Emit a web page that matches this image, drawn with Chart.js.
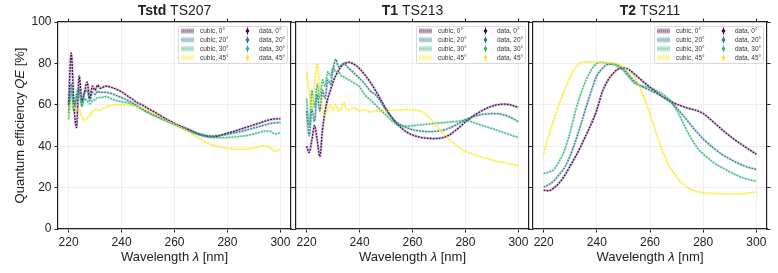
<!DOCTYPE html>
<html>
<head>
<meta charset="utf-8">
<script src="https://cdn.jsdelivr.net/npm/chart.js@4.4.0/dist/chart.umd.min.js"></script>
<style>
    html, body { margin: 0; padding: 0; background: #fff; }
    #wrap { position: relative; width: 778px; height: 273px; }
    #wrap canvas { position: absolute; left: 0; top: 0; }
</style>
</head>
<body>
<div id="wrap">
    <canvas id="c1" width="778" height="273"></canvas>
    <canvas id="c2" width="778" height="273"></canvas>
    <canvas id="c3" width="778" height="273"></canvas>
</div>
<script>
const angles = ['0°', '20°', '30°', '45°'];
const colors = ['#440154', '#2d7d8e', '#35b779', '#fde725'];

// Tstd TS207
const wl1 = [220,221,222,223,224,225,226,227,228,229,230,231,232,234,236,238,240,242,244,246,248,250,252,254,256,258,260,262,264,266,268,270,272,274,276,278,280,282,284,286,288,290,292,294,296,298,300];
const tstd0 = [60,85,60,49,74,62,66,71,63,69,67,69.5,68, 69,68.5,67.5,66.3,64.5,62.8,61,59.8,58.2,56.8, 55.3,53.8,52.4,51,49.8,48.8,47.7,46.5,45.5,44.8, 44.5,44.8,45.5,46.3,47,47.8,48.7,49.5,50.3,51.2, 52,52.8,53.2,53.2];
const tstd20 = [56,70,57,65,68,60,66,67,62,66,65,66.5,66, 66,65.5,64.5,63.5,62.3,61,59.5,58,56.5,55.2, 54,52.8,51.7,50.6,49.5,48.5,47.5,46.5,45.7,45.2, 45,45.1,45.4,45.8,46.3,46.8,47.4,48.1,48.8,49.5, 50.2,50.9,51.3,51.4];
const tstd30 = [53,67,58,63,66,59,63,62,60.5,62,62.5,63.5,63.5, 64,63,62,61.5,61,60.2,59,57.6,56.2,55, 53.8,52.7,51.6,50.5,49.3,48.1,47,46,45.2,44.6, 44.3,44.1,44.1,44.2,44.4,44.6,44.9,45.3,45.9,46.6, 47.3,47.3,46,46.5];
const tstd45 = [55,61,59,57,58,54,52.5,53.5,55,56.5,58,57.5,57.5, 58.8,59.6,60,60,60,59.8,59.2,58.2,57,55.6, 54.3,53,51.8,50.6,49.3,48,46.4,44.8,43.2,41.8, 40.8,40,39.4,39,38.8,38.7,38.7,38.8,39.1,39.8, 40.3,39.5,37.5,38.5];

// T1 TS213
const wl2 = [220,221,222,223,224,225,226,227,228,229,230,231,232,233,234,235,236,238,240,242,244,246,248,250,252,254,256,258,260,262,264,266,268,270,272,274,276,278,280,282,284,286,288,290,292,294,296,298,300];
const t1_0 = [40,37,43,50,43,35,48,57,63,67,71,74,76.5,78.5,79.8,80.3,80.5, 79.5,77.5,74.5,71,67,62.5,58,54.2,51,48.6, 46.7,45.4,44.6,44.1,43.8,43.7,43.8,44.3,45.5,47.3, 49.5,51.8,53.7,55.5,57,58.3,59.3,60,60.3,60.2, 59.6,58.7];
const t1_20 = [57,45,58,52,65,57,67,63,72,70,77,82,78.5,79,80,79,77.5, 75.2,72.8,70,66.8,64.8,61.5,57.5,54,51.6,50, 48.8,48,47.5,47.2,47,47.1,47.4,47.9,48.8,50, 51.4,52.8,53.9,54.7,55.3,55.6,55.8,55.7,55.3,54.5, 53.3,51.8];
const t1_30 = [63,50,67,59,70,63,72,69,76,74,78,76,76,74,73.5,72.7,72, 70.5,68.7,64.8,62.5,60,57.5,55,52.5,50.5,49.8, 49.7,49.9,50.2,50.4,50.7,51,51.2,51.4,51.7,51.9, 52.2,52.5,52,51,50.2,49.3,48.5,47.7,46.8,45.9, 45,44.2];
const t1_45 = [76,65,58,70,80,66,58,55,58,60,57.5,60,57,58,61,58,57.5, 58.5,57,57.5,56.5,57,57,56.8,57.3,57.5,57.6, 57.8,57.6,57.2,56.3,54.2,51.5,48.5,45.8,43.2,41, 39,37.6,36.5,35.6,34.8,34,33.3,32.7,32.2,31.6, 31.1,30.7];

// T2 TS211
const wl3 = [220,222,224,226,228,230,232,234,236,238,240,242,244,246,248,250,252,254,256,258,260,262,264,266,268,270,272,274,276,278,280,284,288,292,296,300];
const t2_0 = [18.7,18.5,20,22.5,26,30.5,35,40,45.5,51, 57.5,66,71.5,75,77.3,77.8,77,75,72.8,70.5, 68.5,66.5,64.5,63,61.5,60.3,59.3,58.5,57.8,57, 55.8, 51.5,47,43,39.5,36.1];
const t2_20 = [20.3,21.5,23.5,26.5,30,35.5,42.5,50.5,59,67, 74,77.5,79.5,79.8,79,77.3,74.5,71.5,69.5,68.2, 67,65.8,64.5,62.8,61,58.5,55.5,52.5,49.2,46.3, 43.5, 39,35.3,32.5,30.2,28.7];
const t2_30 = [26.8,27.5,29,33,38.5,47,57,65.5,72,77, 80,80.5,80,79.5,78.5,76.5,73.5,70.7,69.5,68.8, 68.2,67.2,65.8,63.9,61.5,57.4,52.5,47.2,42.8,38.8, 36.3, 32,29,26.3,24.3,23];
const t2_45 = [36.5,45.5,53.5,61,67.5,73.5,78,80.2,80.8,80.8, 80.6,80.3,80.2,80,79.5,78.2,76.5,73.5,69,62.5, 55.5,47.5,40,33.8,28.8,25.2,22.3,20.2,18.8,18, 17.6, 17.2,17,16.8,17.3,17.9];

const FONT = '"Liberation Sans", Arial, sans-serif';
const INK = '#222';

function rgba(hex, a) {
    const n = parseInt(hex.slice(1), 16);
    return `rgba(${n >> 16}, ${(n >> 8) & 255}, ${n & 255}, ${a})`;
}

function drawRuns(ctx, runs, x, y, size) {
    // runs: [text, style] drawn left to right, centred on x
    let total = 0;
    runs.forEach(r => { ctx.font = `${r[1]} ${size}px ${FONT}`; total += ctx.measureText(r[0]).width; });
    let cx = x - total / 2;
    runs.forEach(r => {
        ctx.font = `${r[1]} ${size}px ${FONT}`;
        ctx.fillText(r[0], cx, y);
        cx += ctx.measureText(r[0]).width;
    });
}

const panelDeco = {
    id: 'panelDeco',
    afterDraw(chart, args, opts) {
        const ctx = chart.ctx;
        const a = chart.chartArea;
        const mid = (a.left + a.right) / 2;
        ctx.save();
        ctx.fillStyle = INK;
        ctx.textAlign = 'left';
        ctx.textBaseline = 'middle';
        drawRuns(ctx, [[opts.bold, 'bold'], [' ' + opts.rest, 'normal']], mid, 11, 14);
        drawRuns(ctx, [['Wavelength ', 'normal'], ['λ', 'italic'], [' [nm]', 'normal']], mid, 257, 13);
        if (opts.yLabel) {
            ctx.save();
            ctx.translate(20, (a.top + a.bottom) / 2);
            ctx.rotate(-Math.PI / 2);
            drawRuns(ctx, [['Quantum efficiency ', 'normal'], ['QE', 'italic'], [' [%]', 'normal']], 0, 0, 13);
            ctx.restore();
        }

        // legend, two columns
        const bw = 109, bh = 37;
        const bx = a.right - 4 - bw, by = a.top + 4;
        ctx.fillStyle = 'rgba(255,255,255,0.85)';
        ctx.strokeStyle = '#d0d0d0';
        ctx.lineWidth = 0.8;
        ctx.beginPath();
        ctx.roundRect(bx + 0.5, by + 0.5, bw, bh, 2);
        ctx.fill();
        ctx.stroke();
        ctx.font = `6.5px ${FONT}`;
        for (let i = 0; i < 4; i++) {
            const ry = by + 5 + i * 8.9;
            ctx.fillStyle = rgba(colors[i], 0.35);
            ctx.fillRect(bx + 3, ry - 2.5, 13, 5);
            ctx.strokeStyle = rgba(colors[i], 0.45);
            ctx.setLineDash([1, 1]);
            ctx.lineWidth = 1;
            ctx.beginPath();
            ctx.moveTo(bx + 3, ry);
            ctx.lineTo(bx + 16, ry);
            ctx.stroke();
            ctx.setLineDash([]);
            ctx.fillStyle = '#333';
            ctx.fillText('cubic, ' + angles[i], bx + 22, ry + 0.5);

            ctx.strokeStyle = colors[i];
            ctx.lineWidth = 1;
            ctx.beginPath();
            ctx.moveTo(bx + 69.5, ry - 3.5);
            ctx.lineTo(bx + 69.5, ry + 3.5);
            ctx.stroke();
            ctx.fillStyle = colors[i];
            ctx.beginPath();
            ctx.arc(bx + 69.5, ry, 1.8, 0, Math.PI * 2);
            ctx.fill();
            ctx.fillStyle = '#333';
            ctx.fillText('data, ' + angles[i], bx + 81, ry + 0.5);
        }
        ctx.restore();
    }
};

function makeDatasets(wl, series) {
    const sets = [];
    series.forEach((vals, i) => {
        const pts = wl.map((x, k) => ({ x: x, y: vals[k] }));
        sets.push({
            data: pts,
            borderColor: rgba(colors[i], 0.22),
            borderWidth: 2.6,
            pointRadius: 0,
            cubicInterpolationMode: 'monotone',
            order: 10 - i
        });
        sets.push({
            data: pts,
            borderColor: colors[i],
            borderWidth: 1.3,
            borderDash: [1.8, 1.2],
            pointRadius: 0,
            cubicInterpolationMode: 'monotone',
            order: 5 - i
        });
    });
    return sets;
}

function makeScales(showY) {
    const tickFont = { size: 12, family: FONT };
    const grid = { color: '#ebebeb', lineWidth: 0.8, tickLength: 3.5, tickColor: INK, tickWidth: 1 };
    const side = { color: INK, width: 1.2 };
    return {
        x: {
            type: 'linear', position: 'bottom', min: 216, max: 304,
            ticks: { stepSize: 20, includeBounds: false, color: INK, font: tickFont, padding: 3, maxRotation: 0 },
            grid: grid, border: side,
            afterFit: s => { s.height = 20; }
        },
        xTop: {
            type: 'linear', position: 'top', min: 216, max: 304,
            ticks: { stepSize: 20, includeBounds: false, display: false },
            grid: { drawOnChartArea: false, tickLength: 3.5, tickColor: INK, tickWidth: 1 }, border: side,
            afterFit: s => { s.height = 4; }
        },
        y: {
            position: 'left', min: 0, max: 100,
            ticks: { stepSize: 20, display: showY, color: INK, font: tickFont, padding: 3 },
            grid: grid, border: side,
            afterFit: s => { s.width = showY ? 40 : 4; }
        },
        yRight: {
            position: 'right', min: 0, max: 100,
            ticks: { stepSize: 20, display: false },
            grid: { drawOnChartArea: false, tickLength: 3.5, tickColor: INK, tickWidth: 1 }, border: side,
            afterFit: s => { s.width = 4; }
        }
    };
}

function drawPanel(id, wl, series, bold, rest, left, right, showY) {
    const yw = showY ? 40 : 4;
    new Chart(document.getElementById(id), {
        type: 'line',
        data: { datasets: makeDatasets(wl, series) },
        options: {
            responsive: false,
            animation: false,
            devicePixelRatio: 1,
            layout: { padding: { left: left - yw, right: 778 - right - 4, top: 18, bottom: 24 } },
            plugins: {
                legend: { display: false },
                tooltip: { enabled: false },
                panelDeco: { bold: bold, rest: rest, yLabel: showY }
            },
            scales: makeScales(showY)
        },
        plugins: [panelDeco]
    });
}

drawPanel('c1', wl1, [tstd0, tstd20, tstd30, tstd45], 'Tstd', 'TS207', 58, 291, true);
drawPanel('c2', wl2, [t1_0, t1_20, t1_30, t1_45], 'T1', 'TS213', 296, 529, false);
drawPanel('c3', wl3, [t2_0, t2_20, t2_30, t2_45], 'T2', 'TS211', 533, 767, false);
</script>
</body>
</html>
